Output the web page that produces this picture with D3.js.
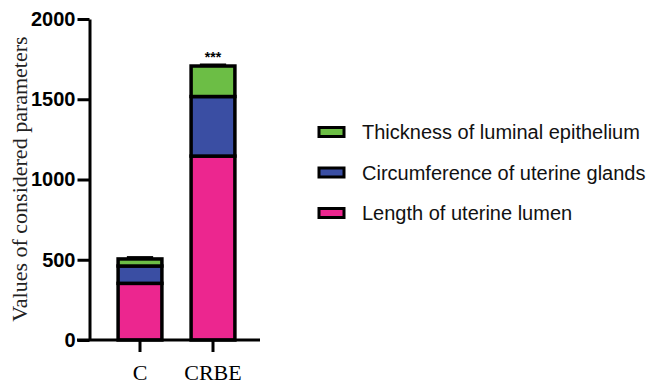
<!DOCTYPE html>
<html><head><meta charset="utf-8">
<script src="https://cdn.jsdelivr.net/npm/d3@7"></script>
<style>html,body{margin:0;padding:0;background:#fff;}svg{display:block;}</style>
</head><body>
<svg id="chart" width="654" height="387"></svg>
<script>
const categories = ["C", "CRBE"];
const seriesNames = ["Length of uterine lumen", "Circumference of uterine glands", "Thickness of luminal epithelium"];
const lengthLumen = [353, 1146];
const circumferenceGlands = [108, 371];
const thicknessEpithelium = [44, 190];
const errors = [10, 8];
const significance = ["", "***"];
const yTicks = [0, 500, 1000, 1500, 2000];
const colors = ["#EC268F", "#3A4EA3", "#6CBE45"];

const svg = d3.select("#chart");
const y = d3.scaleLinear().domain([0, 2000]).range([340, 19]);
const x = d3.scaleBand().domain(categories).range([103.5, 249.5]).paddingInner(0.4).paddingOuter(0.2);

const rows = categories.map((c, i) => ({cat: c, len: lengthLumen[i], circ: circumferenceGlands[i], thick: thicknessEpithelium[i]}));
const stack = d3.stack().keys(["len", "circ", "thick"]);
const layers = stack(rows);

// bars
const g = svg.append("g");
layers.forEach((layer, li) => {
  g.selectAll(null).data(layer).enter().append("rect")
    .attr("x", d => x(d.data.cat))
    .attr("width", x.bandwidth())
    .attr("y", d => y(d[1]))
    .attr("height", d => y(d[0]) - y(d[1]))
    .attr("fill", colors[li])
    .attr("stroke", "#000")
    .attr("stroke-width", 3.5);
});

// error bars
rows.forEach((r, i) => {
  const tot = r.len + r.circ + r.thick;
  const cx = x(r.cat) + x.bandwidth() / 2;
  const hw = x.bandwidth() * 0.3;
  svg.append("line").attr("x1", cx).attr("x2", cx).attr("y1", y(tot)).attr("y2", y(tot + errors[i]))
    .attr("stroke", "#000").attr("stroke-width", 2.5);
  svg.append("line").attr("x1", cx - hw).attr("x2", cx + hw).attr("y1", y(tot + errors[i])).attr("y2", y(tot + errors[i]))
    .attr("stroke", "#000").attr("stroke-width", 2.5);
  if (significance[i]) {
    svg.append("text").attr("x", cx).attr("y", y(tot + errors[i]) - 3)
      .attr("text-anchor", "middle").attr("font-family", "Liberation Sans, Arial, sans-serif")
      .attr("font-weight", "bold").attr("font-size", 14).text(significance[i]);
  }
});

// y axis
const yAxis = d3.axisLeft(y).tickValues(yTicks).tickFormat(d3.format("d")).tickSize(12).tickSizeOuter(0).tickPadding(2);
const ya = svg.append("g").attr("transform", "translate(89.5,0)").call(yAxis);
ya.select(".domain").attr("stroke", "#000").attr("stroke-width", 3);
ya.selectAll(".tick line").attr("stroke", "#000").attr("stroke-width", 3);
ya.selectAll(".tick text").attr("font-family", "Liberation Sans, Arial, sans-serif")
  .attr("font-weight", "bold").attr("font-size", 20).attr("fill", "#000");

// x axis
const xAxis = d3.axisBottom(x).tickSize(12).tickSizeOuter(0).tickPadding(12);
const xa = svg.append("g").attr("transform", "translate(0,340)").call(xAxis);
xa.select(".domain").attr("d", "M77,0H260").attr("stroke", "#000").attr("stroke-width", 3);
xa.selectAll(".tick line").attr("stroke", "#000").attr("stroke-width", 3);
xa.selectAll(".tick text").attr("font-family", "Liberation Serif, Times New Roman, serif")
  .attr("font-size", 22).attr("fill", "#000");

// y label
svg.append("text").attr("transform", "translate(27,179) rotate(-90)")
  .attr("text-anchor", "middle").attr("font-family", "Liberation Serif, Times New Roman, serif")
  .attr("font-size", 22).attr("fill", "#222").text("Values of considered parameters");

// legend
const legendOrder = [2, 1, 0];
const lg = svg.append("g");
legendOrder.forEach((si, k) => {
  const cy = 132 + k * 40.5;
  lg.append("rect").attr("x", 319).attr("y", cy - 4.5).attr("width", 25).attr("height", 9)
    .attr("fill", colors[si]).attr("stroke", "#000").attr("stroke-width", 3);
  lg.append("text").attr("x", 362).attr("y", cy).attr("dy", "0.35em")
    .attr("font-family", "Liberation Sans, Arial, sans-serif").attr("font-size", 20)
    .attr("fill", "#111").text(seriesNames[si]);
});
</script>
</body></html>
